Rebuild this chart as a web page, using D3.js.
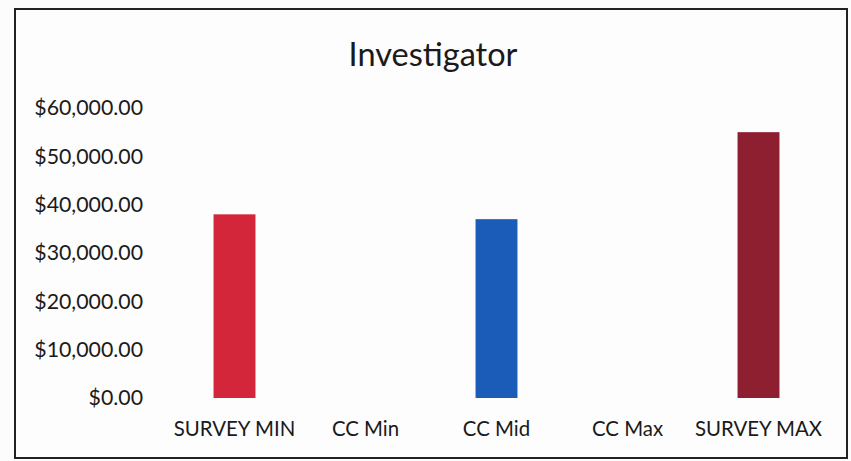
<!DOCTYPE html>
<html>
<head>
<meta charset="utf-8">
<script src="https://cdnjs.cloudflare.com/ajax/libs/d3/7.8.5/d3.min.js"></script>
<style>
  body { margin: 0; background: #fcfcfc; }
  text { font-family: Lato, "Open Sans", sans-serif; fill: #1a1a1a; }
</style>
</head>
<body>
<div id="chart"></div>
<script>
// data
var categories = ["SURVEY MIN", "CC Min", "CC Mid", "CC Max", "SURVEY MAX"];
var salaries = [38000, null, 37000, null, 55000];
var barColors = ["#d4263a", "#ffffff", "#1b5cb8", "#ffffff", "#8e1f30"];
var yTicks = [0, 10000, 20000, 30000, 40000, 50000, 60000];
var chartTitle = "Investigator";

var W = 851, H = 461;
var margin = {top: 108, right: 27, bottom: 63, left: 169},
    width = W - margin.left - margin.right,
    height = H - margin.top - margin.bottom;

var svg = d3.select("#chart").append("svg")
    .attr("width", W)
    .attr("height", H);

// frame
svg.append("rect")
  .attr("x", 15).attr("y", 9)
  .attr("width", 832).attr("height", 449)
  .attr("fill", "#fdfdfd")
  .attr("stroke", "#222")
  .attr("stroke-width", 2);

svg.append("text")
  .attr("x", 433)
  .attr("y", 66)
  .attr("text-anchor", "middle")
  .style("font-size", "32.5px")
  .text(chartTitle);

var g = svg.append("g")
    .attr("transform", "translate(" + margin.left + "," + margin.top + ")");

var x = d3.scaleBand()
    .domain(categories)
    .range([0, width])
    .paddingInner(0.68)
    .paddingOuter(0.34);

var y = d3.scaleLinear()
    .domain([0, 60000])
    .range([height, 0]);

var fmt = function(v){ return "$" + d3.format(",.2f")(v); };

var yAxis = g.append("g")
    .call(d3.axisLeft(y).tickValues(yTicks).tickFormat(fmt).tickSize(0).tickPadding(26));
yAxis.select(".domain").remove();
yAxis.selectAll("text").style("font-size", "21.3px").attr("fill", "#1a1a1a");

var xAxis = g.append("g")
    .attr("transform", "translate(0," + height + ")")
    .call(d3.axisBottom(x).tickSize(0).tickPadding(24));
xAxis.select(".domain").remove();
xAxis.selectAll("text").style("font-size", "20.4px").attr("fill", "#1a1a1a");

g.selectAll("rect.bar")
  .data(categories.map(function(c, i){ return {cat: c, v: salaries[i], color: barColors[i]}; })
        .filter(function(d){ return d.v != null; }))
  .enter().append("rect")
  .attr("class", "bar")
  .attr("x", function(d){ return x(d.cat); })
  .attr("width", x.bandwidth())
  .attr("y", function(d){ return y(d.v); })
  .attr("height", function(d){ return height - y(d.v); })
  .attr("fill", function(d){ return d.color; });
</script>
</body>
</html>
